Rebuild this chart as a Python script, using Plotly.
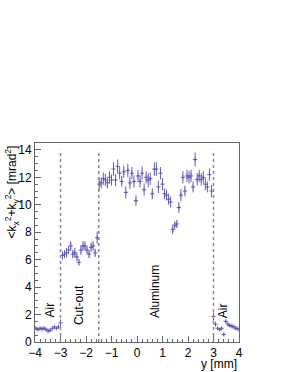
import plotly.graph_objects as go

# bin centres: 100 bins of 0.08 mm from -4 to 4
bin_width = 0.08
y_pos = [round(-3.96 + bin_width * i, 3) for i in range(100)]

air_left = [1.0, 0.9, 1.0, 0.95, 1.0, 0.9, 0.8, 0.85, 1.0, 1.1, 1.0, 1.1, 1.4]
cut_out = [6.3, 6.4, 6.5, 6.7, 7.0, 6.4, 6.5, 6.2, 5.8, 6.7, 7.0, 7.0, 6.7,
           6.4, 6.9, 7.0, 6.5, 7.6]
aluminum = [11.5, 11.6, 11.9, 11.8, 11.6, 12.0, 11.8, 12.6, 11.8, 12.8,
            12.3, 11.7, 12.4, 10.9, 12.5, 11.6, 12.3, 11.7, 10.3, 12.1,
            11.7, 12.3, 11.1, 12.0, 11.8, 11.9, 10.8, 12.6, 12.6, 11.3,
            12.3, 11.5, 10.8, 10.7, 10.4, 10.2, 8.2, 8.5, 8.6, 9.8,
            10.7, 12.0, 11.0, 12.1, 12.0, 12.1, 11.3, 13.3, 11.85, 12.1,
            11.85, 12.0, 11.5, 11.3, 12.2, 11.0]
air_right = [1.86, 1.3, 1.0, 0.9, 1.0, 0.55, 1.5, 1.3, 1.2, 1.15, 1.1, 1.0, 0.95]

err_air_left = [0.12, 0.1, 0.1, 0.1, 0.12, 0.1, 0.1, 0.1, 0.12, 0.1, 0.1, 0.12, 0.25]
err_cut_out = [0.3, 0.3, 0.35, 0.3, 0.35, 0.3, 0.35, 0.3, 0.25, 0.35, 0.35, 0.35,
               0.3, 0.3, 0.35, 0.35, 0.3, 0.45]
err_aluminum = [0.45, 0.4, 0.45, 0.45, 0.4, 0.45, 0.4, 0.5, 0.45, 0.5,
                0.45, 0.4, 0.45, 0.45, 0.5, 0.45, 0.45, 0.45, 0.4, 0.45,
                0.45, 0.5, 0.45, 0.45, 0.5, 0.45, 0.4, 0.5, 0.5, 0.45,
                0.45, 0.45, 0.4, 0.4, 0.4, 0.4, 0.35, 0.3, 0.3, 0.4,
                0.45, 0.45, 0.4, 0.45, 0.45, 0.45, 0.4, 0.5, 0.45, 0.45,
                0.45, 0.45, 0.45, 0.4, 0.45, 0.45]
err_air_right = [0.3, 0.15, 0.12, 0.12, 0.12, 0.12, 0.12, 0.1, 0.1, 0.1, 0.1, 0.1, 0.1]
sys_err = 0.2

values = air_left + cut_out + aluminum + air_right
errors = err_air_left + err_cut_out + err_aluminum + err_air_right

boundaries = [-3.0, -1.5, 3.0]
region_labels = ["Air", "Cut-out", "Aluminum", "Air"]
label_x = [-3.41, -2.27, 0.7, 3.4]
label_y = [2.3, 2.7, 3.7, 2.3]

x_ticks = [-4, -3, -2, -1, 0, 1, 2, 3, 4]
y_ticks = [0, 2, 4, 6, 8, 10, 12, 14]

blue_line = "rgba(70,70,170,0.85)"
blue_fill = "rgba(110,110,220,0.3)"
font = "Liberation Sans, Arial, sans-serif"

fig = go.Figure()

# systematic boxes
fig.add_trace(go.Bar(
    x=y_pos,
    y=[2 * sys_err] * len(values),
    base=[v - sys_err for v in values],
    width=bin_width * 0.8,
    marker=dict(color=blue_fill, line=dict(width=0)),
    hoverinfo="skip",
    showlegend=False,
))

# points with statistical errors
fig.add_trace(go.Scatter(
    x=y_pos,
    y=values,
    mode="markers",
    marker=dict(symbol="line-ew", size=3, line=dict(color=blue_line, width=1)),
    error_y=dict(type="data", array=errors, color=blue_line, thickness=1, width=0),
    showlegend=False,
))

for b in boundaries:
    fig.add_shape(type="line", xref="x", yref="y", x0=b, x1=b, y0=0, y1=14,
                  line=dict(color="#888888", width=1.5, dash="dot"))

for t, lx, ly in zip(region_labels, label_x, label_y):
    fig.add_annotation(x=lx, y=ly, xref="x", yref="y", text=t, textangle=-90,
                       showarrow=False, font=dict(family=font, size=12, color="black"),
                       xanchor="center", yanchor="middle")

fig.add_annotation(x=1, y=-0.066, xref="paper", yref="paper", text="y [mm]",
                   showarrow=False, xanchor="right", yanchor="top",
                   font=dict(family=font, size=12, color="black"))
fig.add_annotation(x=-0.113, y=1.0, xref="paper", yref="paper",
                   text="<k<sub>x</sub><sup>2</sup>+k<sub>y</sub><sup>2</sup>> [mrad<sup>2</sup>]",
                   textangle=-90, showarrow=False, xanchor="center", yanchor="top",
                   font=dict(family=font, size=12, color="black"))

axis_common = dict(
    showgrid=False, zeroline=False, showline=True, linecolor="#666666", linewidth=1,
    mirror=True, ticks="inside", tickcolor="#666666", ticklen=6,
    tickfont=dict(family=font, size=12, color="black"),
)

fig.update_xaxes(range=[-4, 4], tickvals=x_ticks, ticktext=[("\u2212" + str(-t)) if t < 0 else str(t) for t in x_ticks],
                 minor=dict(ticks="inside", dtick=0.2, ticklen=3, tickcolor="#666666"),
                 **axis_common)
fig.update_yaxes(range=[0, 14.5], tickvals=y_ticks,
                 minor=dict(ticks="inside", dtick=0.5, ticklen=3, tickcolor="#666666"),
                 **axis_common)

fig.update_layout(
    width=287, height=372,
    margin=dict(l=35, r=48, t=143, b=26),
    plot_bgcolor="white", paper_bgcolor="white",
    bargap=0, barmode="overlay",
    font=dict(family=font),
)

fig.write_html("out.html", config={"displayModeBar": False},
               post_script="document.body.style.margin='0';")
